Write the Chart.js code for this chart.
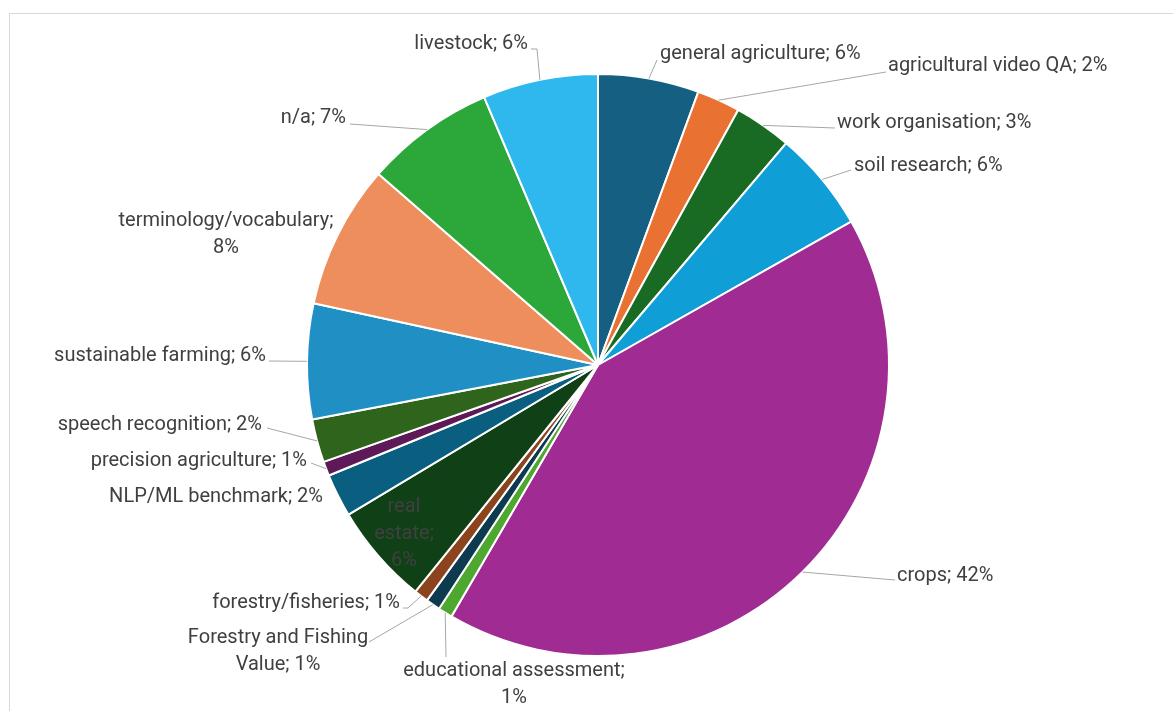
<!DOCTYPE html>
<html>
<head>
<meta charset="utf-8">
<script src="https://cdn.jsdelivr.net/npm/chart.js@4/dist/chart.umd.min.js"></script>
<style>
  html, body { margin: 0; padding: 0; background: #ffffff; }
  #frame { position: absolute; left: 9px; top: 13px; width: 1200px; height: 720px; border: 1px solid #d9d9d9; box-sizing: border-box; }
  #c { position: absolute; left: 0; top: 0; }
</style>
</head>
<body>
<div id="frame"></div>
<canvas id="c" width="1173" height="711"></canvas>
<script>
// ---- data (counts; labels show share of total) ----
const categories = [
  "general agriculture", "agricultural video QA", "work organisation", "soil research",
  "crops", "educational assessment", "Forestry and Fishing Value", "forestry/fisheries",
  "real estate", "NLP/ML benchmark", "precision agriculture", "speech recognition",
  "sustainable farming", "terminology/vocabulary", "n/a", "livestock"
];
const counts = [7, 3, 4, 7, 52, 1, 1, 1, 7, 3, 1, 3, 8, 10, 9, 8];
const sliceColors = [
  "#156082", "#E97132", "#196B24", "#0F9ED5", "#A02B93", "#4EA72E",
  "#0D3A4E", "#8C441E", "#0F4016", "#0A5E7F", "#5E1A58", "#2F641C",
  "#1F8FC4", "#EE8E5C", "#2CA83A", "#2FB8EE"
];

// ---- label layout (text anchors and leader start points) ----
const labelLayout = [
  { lines: ["general agriculture; 6%"], x: 660, y: 52, align: "left", from: [[657, 60]] },
  { lines: ["agricultural video QA; 2%"], x: 888, y: 64, align: "left", from: [[886, 72]] },
  { lines: ["work organisation; 3%"], x: 837, y: 121, align: "left", from: [[835, 128]] },
  { lines: ["soil research; 6%"], x: 854, y: 164, align: "left", from: [[851, 170]] },
  { lines: ["crops; 42%"], x: 897, y: 574, align: "left", from: [[895, 580]] },
  { lines: ["educational assessment;", "1%"], x: 514, y: 669, align: "center", from: [[446, 657]] },
  { lines: ["Forestry and Fishing", "Value; 1%"], x: 278, y: 636, align: "center", from: [[369, 642]] },
  { lines: ["forestry/fisheries; 1%"], x: 400, y: 601, align: "right", from: [[403, 608], [408, 608]] },
  { lines: ["real", "estate;", "6%"], x: 404, y: 505, align: "center" },
  { lines: ["NLP/ML benchmark; 2%"], x: 323, y: 495, align: "right" },
  { lines: ["precision agriculture; 1%"], x: 307, y: 459, align: "right", from: [[311, 463]] },
  { lines: ["speech recognition; 2%"], x: 262, y: 423, align: "right", from: [[267, 428]] },
  { lines: ["sustainable farming; 6%"], x: 266, y: 354, align: "right", from: [[269, 361]] },
  { lines: ["terminology/vocabulary;", "8%"], x: 226, y: 219, align: "center" },
  { lines: ["n/a; 7%"], x: 346, y: 116, align: "right", from: [[350, 124]] },
  { lines: ["livestock; 6%"], x: 528, y: 42, align: "right", from: [[531, 49], [537, 49]] }
];

const labelPlugin = {
  id: "pieLabels",
  afterDatasetsDraw(chart) {
    const ctx = chart.ctx;
    const meta = chart.getDatasetMeta(0);
    ctx.save();
    ctx.font = "20px Roboto, 'Open Sans', sans-serif";
    ctx.textBaseline = "middle";
    meta.data.forEach((arc, i) => {
      const L = labelLayout[i];
      if (!L) return;
      const p = arc.getProps(["x", "y", "startAngle", "endAngle", "outerRadius"], true);
      const mid = (p.startAngle + p.endAngle) / 2;
      if (L.from) {
        const ex = p.x + Math.cos(mid) * p.outerRadius;
        const ey = p.y + Math.sin(mid) * p.outerRadius;
        ctx.strokeStyle = "#a6a6a6";
        ctx.lineWidth = 1;
        ctx.beginPath();
        ctx.moveTo(L.from[0][0], L.from[0][1]);
        for (let k = 1; k < L.from.length; k++) ctx.lineTo(L.from[k][0], L.from[k][1]);
        ctx.lineTo(ex, ey);
        ctx.stroke();
      }
      ctx.fillStyle = "#404040";
      ctx.textAlign = L.align;
      L.lines.forEach((t, k) => ctx.fillText(t, L.x, L.y + 2 + k * 27));
    });
    ctx.restore();
  }
};

new Chart(document.getElementById("c"), {
  type: "pie",
  data: {
    labels: categories,
    datasets: [{
      data: counts,
      backgroundColor: sliceColors,
      borderColor: "#ffffff",
      borderWidth: 2
    }]
  },
  options: {
    responsive: false,
    animation: false,
    layout: { padding: { left: 306, right: 283, top: 73, bottom: 54 } },
    plugins: {
      legend: { display: false },
      tooltip: { enabled: false },
      title: { display: false }
    }
  },
  plugins: [labelPlugin]
});
</script>
</body>
</html>
